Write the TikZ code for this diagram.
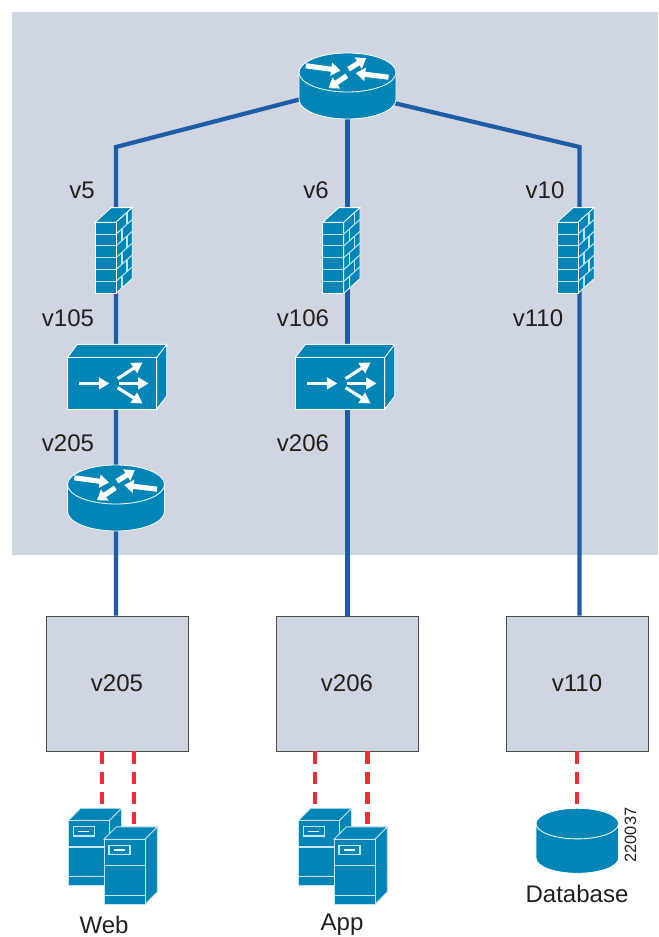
\documentclass[tikz,border=0pt]{standalone}
\usepackage{fontspec}
\setmainfont{Liberation Sans}
\usetikzlibrary{arrows.meta}

\definecolor{panelgray}{HTML}{CFD6E1}
\definecolor{linkblue}{HTML}{1F5CA6}
\definecolor{iconteal}{HTML}{0085B6}
\definecolor{iconedge}{HTML}{C4E4EF}
\definecolor{dashred}{HTML}{EE2E38}
\definecolor{inktext}{HTML}{231F20}

\begin{document}
\begin{tikzpicture}[
    x=0.03cm, y=-0.03cm,
    link/.style={linkblue, line width=3.6pt},
    access/.style={dashred, line width=3.6pt, dash pattern=on 10.6pt off 6.6pt},
    vlanbox/.style={draw=black!70, line width=0.7pt, fill=panelgray, minimum width=4.26cm, minimum height=4.05cm, font=\fontsize{20.5}{24}\selectfont, text=inktext},
    labelfont/.style={font=\fontsize{20.5}{24}\selectfont, text=inktext, inner sep=0pt},
    solid icon/.style={fill=iconteal, draw=white, line width=0.7pt},
    thin icon/.style={draw=iconedge, line width=0.9pt},
    flow/.style={white, line width=4.4pt, -{Triangle[width=11pt, length=8pt]}},
    fan/.style={white, line width=2.7pt, -{Triangle[width=10pt, length=9pt]}},
    routericon/.pic={
        \path[solid icon] (-48.5,-13.5) -- (-48.5,13.5) arc[start angle=180, end angle=0, x radius=48.5, y radius=19.5] -- (48.5,-13.5) -- cycle;
        \path[solid icon] (0,-13.5) ellipse[x radius=48.5, y radius=19.5];
        \draw[flow] (-41.7,-20.2) -- (-7,-15.5);
        \draw[flow] (1,-16.8) -- (18.7,-27.8);
        \draw[flow] (41,-8.8) -- (8.3,-12.8);
        \draw[flow] (-0.7,-10.2) -- (-19,2.2);
    },
    switchicon/.pic={
        \path[solid icon] (0,0) -- (10,-13.3) -- (99.4,-13.3) -- (89.4,0) -- cycle;
        \path[solid icon] (89.4,0) -- (99.4,-13.3) -- (99.4,38.3) -- (89.4,51.6) -- cycle;
        \path[solid icon] (0,0) rectangle (89.4,51.6);
        \draw[fan] (11.7,25.7) -- (42,25.7);
        \draw[fan] (50.3,21) -- (75.3,4.7);
        \draw[fan] (51.7,25.7) -- (81.3,25.7);
        \draw[fan] (50.3,30) -- (75.3,45.7);
    },
    firewallicon/.pic={
        \path[solid icon] (0,0) -- (16.3,-14.7) -- (37.3,-14.7) -- (21,0) -- cycle;
        \path[solid icon] (21,0) -- (37.3,-14.7) -- (37.3,56.3) -- (21,71) -- cycle;
        \path[solid icon] (0,0) rectangle (21,71);
        \foreach \i in {1,...,5} {
            \draw[thin icon] (0,\i*11.83) -- ++(21,0);
            \draw[thin icon] (21,\i*11.83) -- ++(16.3,-14.7);
        }
        \foreach \i in {0,2,4} {
            \draw[thin icon] (32,\i*11.83-9.9) -- ++(0,11.83);
            \draw[thin icon] (27,\i*11.83+6.4) -- ++(0,11.83);
        }
    },
    servericon/.pic={
        \path[solid icon, draw=iconedge] (0,0) -- (12.3,-12.4) -- (53.3,-12.4) -- (41,0) -- cycle;
        \path[solid icon, draw=iconedge] (41,0) -- (53.3,-12.4) -- (53.3,52.6) -- (41,65) -- cycle;
        \path[solid icon, draw=iconedge] (0,0) rectangle (41,65);
        \draw[thin icon] (5,6) rectangle (26,15.3);
        \draw[thin icon, white] (10,10.7) -- (21,10.7);
        \draw[thin icon] (0,26.3) -- (41,26.3);
        \draw[thin icon] (0,56) -- (41,56);
    }
]

\useasboundingbox (0,0) rectangle (658,937);

% Shaded area
\fill[panelgray] (12,12) rectangle (658,555);

% Fixed points
\coordinate (coreL) at (347.5,87);
\coordinate (coreM) at (347.5,86);
\coordinate (coreR) at (347.5,92);
\coordinate (bendA) at (116,147);
\coordinate (bendC) at (579.5,147);
\coordinate (swA) at (116,383);
\coordinate (swB) at (347.5,383);
\coordinate (rtA) at (116,498);
\foreach \name/\lx in {A/116, B/347.5, C/579.5} {
    \coordinate (fw\name) at (\lx,250);
}

% Access boxes
\foreach \name/\x/\txt in {A/117/v205, B/347/v206, C/577/v110} {
    \node[vlanbox] (box\name) at (\x,683.5) {\raisebox{-1pt}{\txt}};
}

% Uplinks
\draw[link, line join=miter] (coreL) -- (bendA) -- (fwA) -- (swA) -- (rtA) -- (rtA |- boxA.north);
\draw[link] (coreM) -- (fwB) -- (swB) -- (swB |- boxB.north);
\draw[link, line join=miter] (coreR) -- (bendC) -- (fwC) -- (fwC |- boxC.north);

% Dashed drops
\coordinate (webL) at (101.7,808);
\coordinate (webR) at (134,827);
\coordinate (appL) at (315,808);
\coordinate (appR) at (367.5,827);
\coordinate (dbase) at (577.3,810);
\draw[access] (webL |- boxA.south) -- (webL);
\draw[access] (webR |- boxA.south) -- (webR);
\draw[access] (appL |- boxB.south) -- (appL);
\draw[access] (appR |- boxB.south) -- (appR);
\draw[access] (dbase |- boxC.south) -- (dbase);

% Devices
\pic at (coreM) {routericon};
\pic at (rtA) {routericon};
\foreach \x in {95, 322.7, 557} {
    \pic at (\x,222.3) {firewallicon};
}
\foreach \x in {67.3, 295.3} {
    \pic at (\x,357.7) {switchicon};
}
\foreach \x in {0, 230} {
    \pic at (68.3+\x,820.7) {servericon};
    \pic at (104+\x,839.3) {servericon};
}

% Database
\path[solid icon] (536,823.6) -- (536,858) arc[start angle=180, end angle=0, x radius=41.3, y radius=15.3] -- (618.6,823.6) -- cycle;
\path[solid icon] (577.3,823.6) ellipse[x radius=41.3, y radius=15.3];

% Labels
\foreach \name/\x/\y/\txt in {
    va/82/190/v5, vb/316/190/v6, vc/545/190/v10,
    vd/68/318/v105, ve/303/318/v106, vf/538/318/v110,
    vg/68/443/v205, vh/303/443/v206,
    web/104/925/Web, app/342/925/App, db/577/894/Database} {
    \node[labelfont] (lbl\name) at (\x,\y) {\txt};
}
\node[font=\fontsize{14}{16}\selectfont, text=inktext, rotate=90] (figno) at (630.5,835) {220037};

\end{tikzpicture}
\end{document}
